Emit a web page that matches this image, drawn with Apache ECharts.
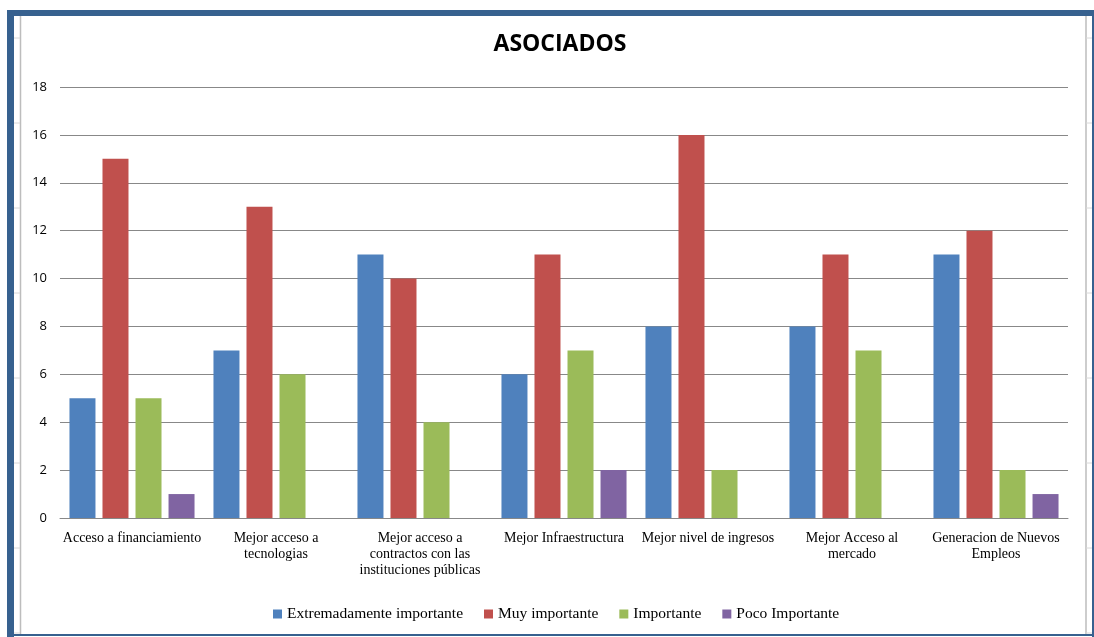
<!DOCTYPE html>
<html><head><meta charset="utf-8">
<script src="https://cdn.jsdelivr.net/npm/echarts@6/dist/echarts.min.js"></script>
<style>html,body{margin:0;padding:0;background:#fff}#c{width:1094px;height:637px}</style>
</head><body><div id="c"></div>
<script>
const categories = ['Acceso a financiamiento','Mejor acceso a\ntecnologias','Mejor acceso a\ncontractos con las\ninstituciones públicas','Mejor Infraestructura','Mejor nivel de ingresos','Mejor Acceso al\nmercado','Generacion de Nuevos\nEmpleos'];
const seriesNames = ['Extremadamente importante','Muy importante','Importante','Poco Importante'];
const extremadamente = [5,7,11,6,8,8,11];
const muy = [15,13,10,11,16,11,12];
const importante = [5,6,4,7,2,7,2];
const poco = [1,0,0,2,0,0,1];
const colors = ['#4F81BD','#C0504D','#9BBB59','#8064A2'];
const values = [extremadamente, muy, importante, poco];

const chart = echarts.init(document.getElementById('c'));
const rowTicks = [];
for (let y = 38; y < 637; y += 85) {
  rowTicks.push({type:'line', shape:{x1:14,y1:y,x2:20,y2:y}, style:{stroke:'#d8d8d8',lineWidth:1}, silent:true});
  rowTicks.push({type:'line', shape:{x1:1086,y1:y,x2:1092,y2:y}, style:{stroke:'#d8d8d8',lineWidth:1}, silent:true});
}
chart.setOption({
  animation:false,
  color: colors,
  title:{text:'ASOCIADOS', left:555, top:28, textAlign:'center',
    textStyle:{fontFamily:'Open Sans, Liberation Sans', fontWeight:'bold', fontSize:23, color:'#000'}},
  grid:{left:60, right:26, top:87, bottom:119, containLabel:false},
  legend:{bottom:10, left:268, itemWidth:9, itemHeight:9, itemGap:21, icon:'rect',
    textStyle:{fontFamily:'Liberation Serif', fontSize:15.5, color:'#000'}},
  xAxis:{type:'category', data:categories,
    axisLine:{lineStyle:{color:'#888'}}, axisTick:{show:false},
    axisLabel:{interval:0, fontFamily:'Liberation Serif', fontSize:14, color:'#000', lineHeight:16, margin:12}},
  yAxis:{type:'value', min:0, max:18, interval:2,
    axisLine:{show:false}, axisTick:{show:false},
    axisLabel:{fontFamily:'Open Sans, Liberation Sans', fontSize:13, color:'#000', margin:13},
    splitLine:{lineStyle:{color:'#888', width:1}}},
  series: seriesNames.map((n,i)=>({name:n, type:'bar', data:values[i], barWidth:26, barGap:'27%',
    itemStyle:{color:colors[i]}})),
  graphic: [
    {type:'rect', shape:{x:7,y:10,width:7,height:627}, style:{fill:'#37618F'}, silent:true},
    {type:'rect', shape:{x:7,y:10,width:1087,height:6}, style:{fill:'#37618F'}, silent:true},
    {type:'rect', shape:{x:1092,y:10,width:2,height:627}, style:{fill:'#37618F'}, silent:true},
    {type:'rect', shape:{x:7,y:634,width:1087,height:2}, style:{fill:'#37618F'}, silent:true},
    {type:'line', shape:{x1:20.5,y1:16,x2:20.5,y2:634}, style:{stroke:'#bdbdbd',lineWidth:1.5}, silent:true},
    {type:'line', shape:{x1:1086,y1:16,x2:1086,y2:634}, style:{stroke:'#bdbdbd',lineWidth:1.5}, silent:true}
  ].concat(rowTicks)
});
</script></body></html>
